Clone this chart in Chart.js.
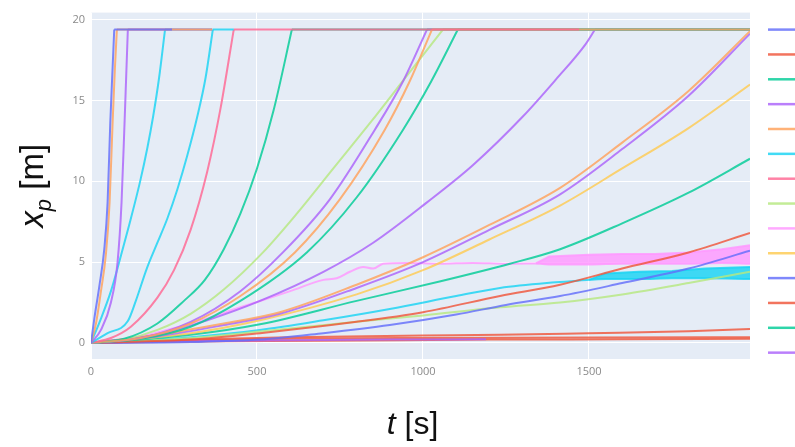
<!DOCTYPE html>
<html lang="en">
<head>
    <meta charset="UTF-8">
    <title>Particle position x_p versus time</title>
    <style>
        html, body { margin: 0; padding: 0; background: #ffffff; }
        #chartBox { width: 795px; height: 447px; }
    </style>
</head>
<body>
    <div id="chartBox">
        <canvas id="xpChart" width="795" height="447"></canvas>
    </div>

    <script src="https://cdn.jsdelivr.net/npm/chart.js"></script>
    <script>
        // Axis ticks
        const xTicks = [0, 500, 1000, 1500];
        const yTicks = [0, 5, 10, 15, 20];

        // Fast traces that reach the end of the domain (x_p = 19.4 m)
        const tBlue1 = [0, 10, 25, 40, 50, 58, 65, 70, 244];
        const xpBlue1 = [0, 1.5, 3.5, 5.8, 8.7, 13.6, 17.0, 19.4, 19.4];
        const tOrange1 = [0, 15, 30, 45, 56, 65, 72, 78, 365];
        const xpOrange1 = [0, 1.2, 3.2, 5.5, 8.7, 13.6, 17.0, 19.4, 19.4];
        const tViolet1 = [0, 30, 60, 80, 92, 101, 106, 111, 365];
        const xpViolet1 = [0, 0.8, 2.5, 5.0, 8.7, 13.6, 16.5, 19.4, 19.4];
        const tCyan1 = [0, 30, 60, 85, 115, 148, 170, 187, 205, 223, 365];
        const xpCyan1 = [0, 1.5, 3.2, 5.0, 7.3, 10.0, 12.1, 14.0, 16.4, 19.4, 19.4];
        const tCyan2 = [0, 50, 111, 135, 168, 200, 230, 260, 290, 320, 345, 367, 430];
        const xpCyan2 = [0, 0.6, 1.35, 2.6, 4.6, 6.2, 7.7, 9.5, 11.6, 14.0, 16.4, 19.4, 19.4];
        const tRose1 = [0, 60, 120, 200, 250, 300, 350, 390, 430, 1470];
        const xpRose1 = [0, 0.3, 1.0, 2.8, 4.5, 7.0, 10.6, 14.5, 19.4, 19.4];
        const tGreen1 = [0, 100, 200, 280, 343, 400, 450, 500, 550, 605, 1985];
        const xpGreen1 = [0, 0.25, 1.2, 2.6, 3.9, 5.8, 8.0, 10.8, 14.4, 19.4, 19.4];

        // Middle group
        const tOrange2 = [0, 150, 300, 450, 614, 750, 885, 960, 1027, 1985];
        const xpOrange2 = [0, 0.3, 1.2, 2.9, 5.6, 8.9, 13.2, 16.2, 19.4, 19.4];
        const tPurple2 = [0, 150, 300, 450, 578, 720, 855, 940, 1012, 1985];
        const xpPurple2 = [0, 0.3, 1.3, 3.2, 5.6, 8.9, 13.2, 16.2, 19.4, 19.4];
        const tLime2 = [0, 100, 200, 300, 400, 518, 620, 730, 840, 950, 1060, 1985];
        const xpLime2 = [0, 0.2, 0.8, 1.8, 3.3, 5.6, 8.0, 10.8, 13.6, 16.5, 19.4, 19.4];
        const tGreen2 = [0, 150, 300, 450, 650, 800, 940, 1025, 1105, 1985];
        const xpGreen2 = [0, 0.25, 1.0, 2.6, 5.6, 9.0, 13.2, 16.2, 19.4, 19.4];
        const tPurple3 = [0, 200, 350, 509, 700, 850, 1012, 1150, 1300, 1400, 1490, 1518, 1985];
        const xpPurple3 = [0, 0.5, 1.4, 2.6, 4.4, 6.2, 8.7, 11.0, 14.0, 16.3, 18.5, 19.4, 19.4];

        // Slow traces still moving at the end of the run
        const tOrange4 = [0, 200, 400, 569, 800, 1000, 1200, 1413, 1600, 1800, 1985];
        const xpOrange4 = [0, 0.5, 1.2, 1.9, 3.6, 5.3, 7.3, 9.6, 12.4, 15.6, 19.3];
        const tPurple4 = [0, 200, 400, 569, 800, 1000, 1200, 1413, 1600, 1800, 1985];
        const xpPurple4 = [0, 0.4, 1.1, 1.8, 3.4, 5.0, 7.0, 9.2, 12.0, 15.3, 19.15];
        const tYellow = [0, 300, 509, 800, 1000, 1200, 1413, 1600, 1800, 1985];
        const xpYellow = [0, 0.6, 1.4, 3.0, 4.5, 6.4, 8.5, 10.8, 13.3, 16.0];
        const tGreen5 = [0, 300, 509, 800, 1050, 1262, 1413, 1600, 1800, 1985];
        const xpGreen5 = [0, 0.5, 1.15, 2.6, 3.8, 4.9, 5.8, 7.4, 9.3, 11.4];
        const tRed5 = [0, 300, 509, 800, 1000, 1232, 1413, 1600, 1800, 1985];
        const xpRed5 = [0, 0.2, 0.6, 1.3, 1.9, 2.9, 3.6, 4.6, 5.6, 6.8];
        const tBlue5 = [0, 300, 509, 700, 900, 1100, 1250, 1413, 1600, 1800, 1985];
        const xpBlue5 = [0, 0.05, 0.2, 0.6, 1.1, 1.75, 2.35, 2.9, 3.7, 4.6, 5.7];
        const tLime5 = [0, 300, 509, 800, 1000, 1232, 1413, 1600, 1800, 1985];
        const xpLime5 = [0, 0.3, 0.7, 1.3, 1.7, 2.2, 2.5, 3.0, 3.7, 4.4];

        // Noisy traces: line, then lower / upper envelope of the noise
        const tCyan6 = [0, 150, 300, 509, 700, 900, 1100, 1232, 1400, 1500];
        const xpCyan6 = [0, 0.15, 0.35, 0.8, 1.4, 2.1, 2.9, 3.4, 3.75, 3.9];
        const tCyanBand = [1500, 1550, 1650, 1750, 1850, 1985];
        const xpCyanLow = [3.9, 3.95, 3.95, 4.0, 4.0, 3.95];
        const xpCyanHigh = [3.9, 4.3, 4.4, 4.45, 4.6, 4.7];
        const tPink6 = [0, 150, 300, 450, 600, 700, 740, 780, 820, 850, 880, 950, 1050, 1150, 1250, 1340];
        const xpPink6 = [0, 0.4, 1.2, 2.2, 3.2, 3.9, 4.0, 4.4, 4.7, 4.6, 4.9, 4.95, 4.9, 4.95, 4.9, 4.92];
        const tPinkBand = [1340, 1380, 1500, 1600, 1700, 1800, 1900, 1985];
        const xpPinkLow = [4.92, 4.85, 4.85, 4.9, 4.9, 4.9, 4.95, 4.9];
        const xpPinkHigh = [4.92, 5.35, 5.45, 5.5, 5.5, 5.6, 5.8, 6.05];

        // Traces that barely move
        const tRed6 = [0, 100, 300, 600, 1000, 1232, 1500, 1800, 1985];
        const xpRed6 = [0, 0.05, 0.2, 0.35, 0.45, 0.5, 0.6, 0.72, 0.85];
        const tPurpleB = [0, 200, 500, 900, 1190];
        const xpPurpleB = [0, 0.08, 0.15, 0.2, 0.22];
        const tRed7 = [0, 100, 300, 600, 1000, 1500, 1985];
        const xpRed7 = [0, 0.05, 0.15, 0.25, 0.3, 0.33, 0.35];
        const tRed8 = [0, 150, 400, 800, 1200, 1600, 1985];
        const xpRed8 = [0, 0.04, 0.1, 0.15, 0.2, 0.22, 0.25];

        // Plotly default colour cycle
        const palette = ['#636EFA', '#EF553B', '#00CC96', '#AB63FA', '#FFA15A',
                         '#19D3F3', '#FF6692', '#B6E880', '#FF97FF', '#FECB52'];
        const legendCount = 14;

        function soften(hex, a) {
            const n = parseInt(hex.slice(1), 16);
            return `rgba(${n >> 16}, ${(n >> 8) & 255}, ${n & 255}, ${a})`;
        }

        // [time, position, colour, band] - first entry is drawn on top
        const seriesDefs = [
            [tBlue1, xpBlue1, palette[0]],
            [tOrange1, xpOrange1, palette[4]],
            [tViolet1, xpViolet1, palette[3]],
            [tCyan1, xpCyan1, palette[5]],
            [tCyan2, xpCyan2, palette[5]],
            [tRose1, xpRose1, palette[6]],
            [tOrange2, xpOrange2, palette[4]],
            [tGreen1, xpGreen1, palette[2]],
            [tPurple2, xpPurple2, palette[3]],
            [tLime2, xpLime2, palette[7]],
            [tGreen2, xpGreen2, palette[2]],
            [tPurple3, xpPurple3, palette[3]],
            [tOrange4, xpOrange4, palette[4]],
            [tPurple4, xpPurple4, palette[3]],
            [tYellow, xpYellow, palette[9]],
            [tGreen5, xpGreen5, palette[2]],
            [tRed5, xpRed5, palette[1]],
            [tBlue5, xpBlue5, palette[0]],
            [tLime5, xpLime5, palette[7]],
            [tCyan6, xpCyan6, palette[5]],
            [tCyanBand, xpCyanLow, palette[5]],
            [tCyanBand, xpCyanHigh, palette[5], true],
            [tPink6, xpPink6, palette[8]],
            [tPinkBand, xpPinkLow, palette[8]],
            [tPinkBand, xpPinkHigh, palette[8], true],
            [tRed6, xpRed6, palette[1]],
            [tPurpleB, xpPurpleB, palette[3]],
            [tRed7, xpRed7, palette[1]],
            [tRed8, xpRed8, palette[1]]
        ];

        function lineDataset(points, color, opts) {
            return Object.assign({
                data: points,
                borderColor: soften(color, 0.82),
                backgroundColor: soften(color, 0.82),
                borderWidth: 2,
                pointRadius: 0,
                fill: false,
                cubicInterpolationMode: 'monotone'
            }, opts);
        }

        // Rising part uses monotone smoothing; a flat tail at the domain end is drawn straight
        const datasets = [];
        seriesDefs.forEach(([t, xp, color, band]) => {
            const pts = t.map((v, i) => ({ x: v, y: xp[i] }));
            const n = pts.length;
            if (band) {
                datasets.push(lineDataset(pts, color, { fill: '-1', cubicInterpolationMode: 'default' }));
            } else if (n > 2 && pts[n - 1].y === pts[n - 2].y) {
                datasets.push(lineDataset(pts.slice(0, n - 1), color));
                datasets.push(lineDataset(pts.slice(n - 2), color, { cubicInterpolationMode: 'default' }));
            } else {
                datasets.push(lineDataset(pts, color));
            }
        });

        // Plot background like plotly's template
        const plotBackground = {
            id: 'plotBackground',
            beforeDraw(chart) {
                const { ctx, chartArea: a } = chart;
                ctx.save();
                ctx.fillStyle = '#E5ECF6';
                ctx.fillRect(a.left, a.top, a.right - a.left, a.bottom - a.top);
                ctx.restore();
            }
        };

        // Axis titles with italic symbol and subscript
        function drawPieces(ctx, pieces, cx, baseline) {
            let total = 0;
            pieces.forEach(p => { ctx.font = p.font; p.w = ctx.measureText(p.text).width; total += p.w; });
            let x = cx - total / 2;
            pieces.forEach(p => {
                ctx.font = p.font;
                ctx.fillText(p.text, x, baseline + (p.dy || 0));
                x += p.w;
            });
        }

        const axisTitles = {
            id: 'axisTitles',
            afterDraw(chart) {
                const { ctx, chartArea: a } = chart;
                const fam = '"Liberation Sans", Arial, sans-serif';
                ctx.save();
                ctx.fillStyle = '#111111';
                ctx.textBaseline = 'alphabetic';
                ctx.textAlign = 'left';
                drawPieces(ctx, [
                    { text: 't', font: 'italic 32px ' + fam },
                    { text: ' [s]', font: '32px ' + fam }
                ], (a.left + a.right) / 2 - 8, 434);
                ctx.translate(43, (a.top + a.bottom) / 2);
                ctx.rotate(-Math.PI / 2);
                drawPieces(ctx, [
                    { text: 'x', font: 'italic 33px ' + fam },
                    { text: 'p', font: 'italic 22px ' + fam, dy: 8 },
                    { text: ' [m]', font: '33px ' + fam }
                ], 0, 0);
                ctx.restore();
            }
        };

        // Legend: only the coloured samples are visible, the names fall outside the picture
        const legendLines = {
            id: 'legendLines',
            afterDraw(chart) {
                const { ctx, chartArea: a } = chart;
                ctx.save();
                ctx.lineWidth = 2.5;
                for (let i = 0; i < legendCount; i++) {
                    const y = a.top + 17 + i * 24.85;
                    ctx.strokeStyle = soften(palette[i % palette.length], 0.82);
                    ctx.beginPath();
                    ctx.moveTo(a.right + 18, y);
                    ctx.lineTo(a.right + 46, y);
                    ctx.stroke();
                }
                ctx.restore();
            }
        };

        const tickFont = { family: '"Open Sans", sans-serif', size: 11 };

        const ctx = document.getElementById('xpChart').getContext('2d');
        new Chart(ctx, {
            type: 'line',
            data: { datasets },
            options: {
                responsive: false,
                animation: false,
                devicePixelRatio: 1,
                layout: { padding: { top: 8, right: 45, bottom: 0, left: 0 } },
                plugins: {
                    legend: { display: false },
                    tooltip: { enabled: false }
                },
                scales: {
                    x: {
                        type: 'linear',
                        min: 0,
                        max: 1985,
                        afterBuildTicks: s => { s.ticks = xTicks.map(v => ({ value: v })); },
                        afterFit: s => { s.height = 88; },
                        grid: { color: '#ffffff', lineWidth: 1, drawTicks: false },
                        border: { display: false },
                        ticks: { font: tickFont, color: '#8a8a8a', padding: 6, maxRotation: 0,
                                 callback: v => String(v) }
                    },
                    y: {
                        type: 'linear',
                        min: -1.0,
                        max: 20.45,
                        afterBuildTicks: s => { s.ticks = yTicks.map(v => ({ value: v })); },
                        afterFit: s => { s.width = 91; },
                        grid: { color: '#ffffff', lineWidth: 1, drawTicks: false },
                        border: { display: false },
                        ticks: { font: tickFont, color: '#8a8a8a', padding: 6 }
                    }
                }
            },
            plugins: [plotBackground, axisTitles, legendLines]
        });
    </script>
</body>
</html>
